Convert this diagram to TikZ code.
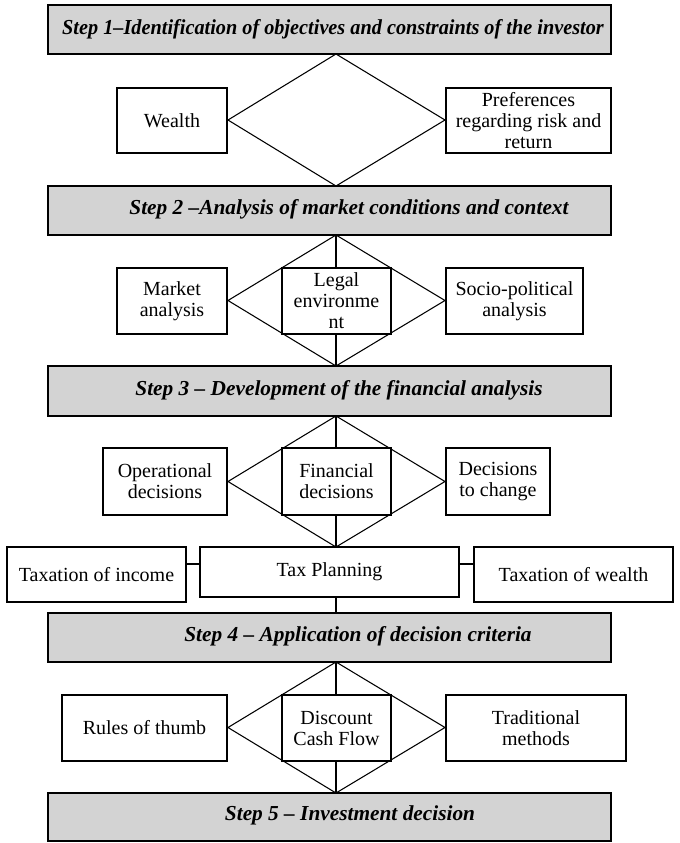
\documentclass[tikz,border=0pt]{standalone}
\usepackage{fontspec}
\setmainfont{Liberation Serif}
\definecolor{stepgray}{RGB}{211,211,211}
\begin{document}
\begin{tikzpicture}[x=0.75pt,y=-0.75pt, line width=0.8pt,
  stepbox/.style={draw, fill=stepgray, minimum width=422.25pt, inner sep=0pt},
  steptext/.style={font=\fontsize{16}{19}\selectfont\bfseries\itshape, inner sep=0pt},
  box/.style={draw, fill=white, inner sep=1pt, align=center, font=\fontsize{15}{15.75}\selectfont},
]
\useasboundingbox (0,0) rectangle (680,843);

% step boxes
\node[stepbox, minimum height=36.75pt] (s1) at (329.5,29.5) {};
\node[stepbox, minimum height=36.75pt] (s2) at (329.5,210.5) {};
\node[stepbox, minimum height=37.5pt]  (s3) at (329.5,391) {};
\node[stepbox, minimum height=36.75pt] (s4) at (329.5,637.5) {};
\node[stepbox, minimum height=36pt]    (s5) at (329.5,817) {};

\node[steptext] (t1) at (333,29) {\scalebox{0.95}[1]{Step 1–Identification of objectives and constraints of the investor}};
\node[steptext] (t2) at (349,209) {Step 2 –Analysis of market conditions and context};
\node[steptext] (t3) at (339,390) {Step 3 – Development of the financial analysis};
\node[steptext] (t4) at (358,636) {Step 4 – Application of decision criteria};
\node[steptext] (t5) at (350,815) {Step 5 – Investment decision};

% diamond vertices
\coordinate (d1t) at (336,54);  \coordinate (d1b) at (336,186);
\coordinate (d1l) at (228,120); \coordinate (d1r) at (445,120);
\coordinate (d2t) at (336,235); \coordinate (d2b) at (336,366);
\coordinate (d2l) at (228,300.5); \coordinate (d2r) at (445,300.5);
\coordinate (d3t) at (336,416); \coordinate (d3b) at (336,547);
\coordinate (d3l) at (228,481.5); \coordinate (d3r) at (445,481.5);
\coordinate (d4t) at (336,662); \coordinate (d4b) at (336,793);
\coordinate (d4l) at (228,727.5); \coordinate (d4r) at (445,727.5);

\draw (d1t) -- (d1l) -- (d1b) -- (d1r) -- cycle;
\draw (d2t) -- (d2l) -- (d2b) -- (d2r) -- cycle;
\draw (d3t) -- (d3l) -- (d3b) -- (d3r) -- cycle;
\draw (d4t) -- (d4l) -- (d4b) -- (d4r) -- cycle;

% row 1
\node[box, minimum width=82.5pt, minimum height=48.75pt] (wealth) at (172,120.5) {Wealth};
\node[box, minimum width=123.75pt, minimum height=48.75pt] (pref) at (528.5,120.5) {Preferences\\regarding risk and\\return};

% row 2
\node[box, minimum width=82.5pt, minimum height=49.5pt] (market) at (172,301) {Market\\analysis};
\node[box, minimum width=81.75pt, minimum height=49.5pt] (legal) at (336.5,301) {Legal\\environme\\nt};
\node[box, minimum width=102.75pt, minimum height=49.5pt] (socio) at (514.5,301) {Socio-political\\analysis};
\draw (d2t) -- (legal.north -| d2t);
\draw (legal.south -| d2b) -- (d2b);

% row 3
\node[box, minimum width=93pt, minimum height=50.25pt] (oper) at (165,481.5) {Operational\\decisions};
\node[box, minimum width=81.75pt, minimum height=50.25pt] (fin) at (336.5,481.5) {Financial\\decisions};
\node[box, minimum width=78pt, minimum height=50.25pt] (dchg) at (498,481.5) {Decisions\\to change};
\draw (d3t) -- (fin.north -| d3t);
\draw (fin.south -| d3b) -- (d3b);

% tax row
\node[box, minimum width=134.25pt, minimum height=41.25pt] (income) at (96.5,574.5) {Taxation of income};
\node[box, minimum width=194.25pt, minimum height=37.5pt] (tax) at (329.5,572) {Tax Planning};
\node[box, minimum width=149.25pt, minimum height=41.25pt] (wtax) at (573.5,574.5) {Taxation of wealth};
\coordinate (tl) at (0,564);
\draw (income.east |- tl) -- (tax.west |- tl);
\draw (tax.east |- tl) -- (wtax.west |- tl);
\draw (tax.south -| d4t) -- (d4t |- s4.north);

% row 4
\node[box, minimum width=123.75pt, minimum height=49.5pt] (rules) at (144.5,728) {Rules of thumb};
\node[box, minimum width=81.75pt, minimum height=49.5pt] (dcf) at (336.5,728) {Discount\\Cash Flow};
\node[box, minimum width=135pt, minimum height=49.5pt] (trad) at (536,728) {Traditional\\methods};
\draw (d4t) -- (dcf.north -| d4t);
\draw (dcf.south -| d4b) -- (d4b);
\end{tikzpicture}
\end{document}
